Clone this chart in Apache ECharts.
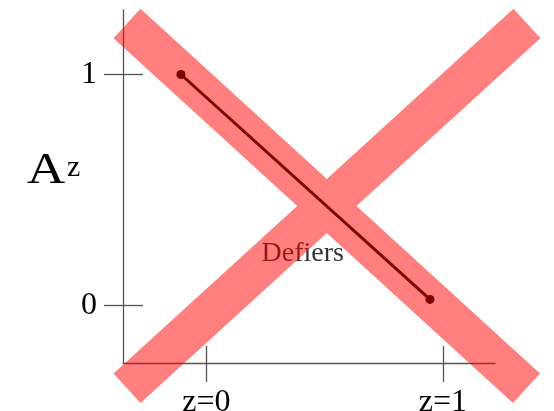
<!DOCTYPE html>
<html>
<head>
<meta charset="utf-8">
<script src="https://cdn.jsdelivr.net/npm/echarts@6/dist/echarts.min.js"></script>
<style>
  html, body { margin: 0; padding: 0; background: #fff; }
  #main { width: 554px; height: 411px; }
</style>
</head>
<body>
<div id="main"></div>
<script>
  // tick positions and labels
  var xTicks = [0, 1];
  var yTicks = [0, 1];
  var xTickNames = ['z=0', 'z=1'];
  // the defiers line: from z=0 side at A=1 down to z=1 side near 0
  var defiersLine = [[-0.108, 1], [0.945, 0.027]];
  var defiersLabel = [[0.407, 0.224]];
  // big cross over the picture, two strokes
  var crossA = [[-0.336, 1.221], [1.353, -0.357]];
  var crossB = [[-0.336, -0.357], [1.355, 1.221]];

  var serif = "'Liberation Serif', 'DejaVu Serif', serif";
  var axisColor = '#555';
  var xMin = -0.353, xMax = 1.22, yMin = -0.248, yMax = 1.279;
  var gridBox = { left: 123, right: 59, top: 10, bottom: 48, outerBoundsMode: 'none' };

  // axis that only draws the inner half of the crossing ticks
  function tickAxis(grid, min, max, ticks, len) {
    return {
      type: 'value', gridIndex: grid, min: min, max: max,
      axisLine: { show: true, lineStyle: { color: axisColor, opacity: 0 } },
      axisTick: { show: true, inside: true, customValues: ticks, length: len, lineStyle: { color: axisColor, width: 1.3, opacity: 1 } },
      axisLabel: { show: false },
      splitLine: { show: false }
    };
  }
  // invisible partner axis, its zero sits on the grid edge
  function edgeAxis(grid) {
    return {
      type: 'value', gridIndex: grid, min: 0, max: 1,
      axisLine: { show: false }, axisTick: { show: false },
      axisLabel: { show: false }, splitLine: { show: false }
    };
  }

  var chart = echarts.init(document.getElementById('main'));
  chart.setOption({
    animation: false,
    grid: [gridBox, gridBox, gridBox],
    xAxis: [{
      type: 'value', min: xMin, max: xMax,
      axisLine: { show: true, onZero: false, lineStyle: { color: axisColor, width: 1.3 } },
      axisTick: { show: true, customValues: xTicks, length: 19, lineStyle: { color: axisColor, width: 1.3 } },
      axisLabel: {
        customValues: xTicks, margin: 40, verticalAlign: 'middle',
        fontFamily: serif, fontSize: 32, color: '#000',
        formatter: function (v) { return xTickNames[xTicks.indexOf(v)]; }
      },
      splitLine: { show: false }
    }, tickAxis(1, xMin, xMax, xTicks, 17), edgeAxis(2)],
    yAxis: [{
      type: 'value', min: yMin, max: yMax,
      axisLine: { show: true, onZero: false, lineStyle: { color: axisColor, width: 1.3 } },
      axisTick: { show: true, customValues: yTicks, length: 19, lineStyle: { color: axisColor, width: 1.3 } },
      axisLabel: { customValues: yTicks, margin: 26, fontFamily: serif, fontSize: 32, color: '#000' },
      splitLine: { show: false }
    }, edgeAxis(1), tickAxis(2, yMin, yMax, yTicks, 20)],
    graphic: [
      { type: 'text', x: 27, y: 149, scaleX: 1.2, style: { text: 'A', font: '44px ' + serif, fill: '#000' } },
      { type: 'text', x: 67, y: 153, style: { text: 'z', font: '30px ' + serif, fill: '#000' } }
    ],
    series: [{
      type: 'line', data: defiersLine, z: 2,
      symbol: 'circle', symbolSize: 9,
      itemStyle: { color: '#000' },
      lineStyle: { color: '#000', width: 3 }
    }, {
      type: 'scatter', data: defiersLabel, symbolSize: 0, z: 2,
      label: { show: true, position: 'inside', formatter: 'Defiers', fontFamily: serif, fontSize: 28, color: '#000' }
    }, {
      // both strokes in one path so the crossing is not darker
      type: 'custom', data: [[0, 0]], z: 5, clip: false,
      renderItem: function (params, api) {
        var a0 = api.coord(crossA[0]), a1 = api.coord(crossA[1]);
        var b0 = api.coord(crossB[0]), b1 = api.coord(crossB[1]);
        return {
          type: 'path',
          shape: {
            pathData: 'M' + a0[0] + ' ' + a0[1] + ' L' + a1[0] + ' ' + a1[1] +
                      ' M' + b0[0] + ' ' + b0[1] + ' L' + b1[0] + ' ' + b1[1],
            layout: 'center'
          },
          style: { fill: null, stroke: 'rgba(255,0,0,0.5)', lineWidth: 40, lineCap: 'butt' }
        };
      }
    }]
  });
</script>
</body>
</html>
